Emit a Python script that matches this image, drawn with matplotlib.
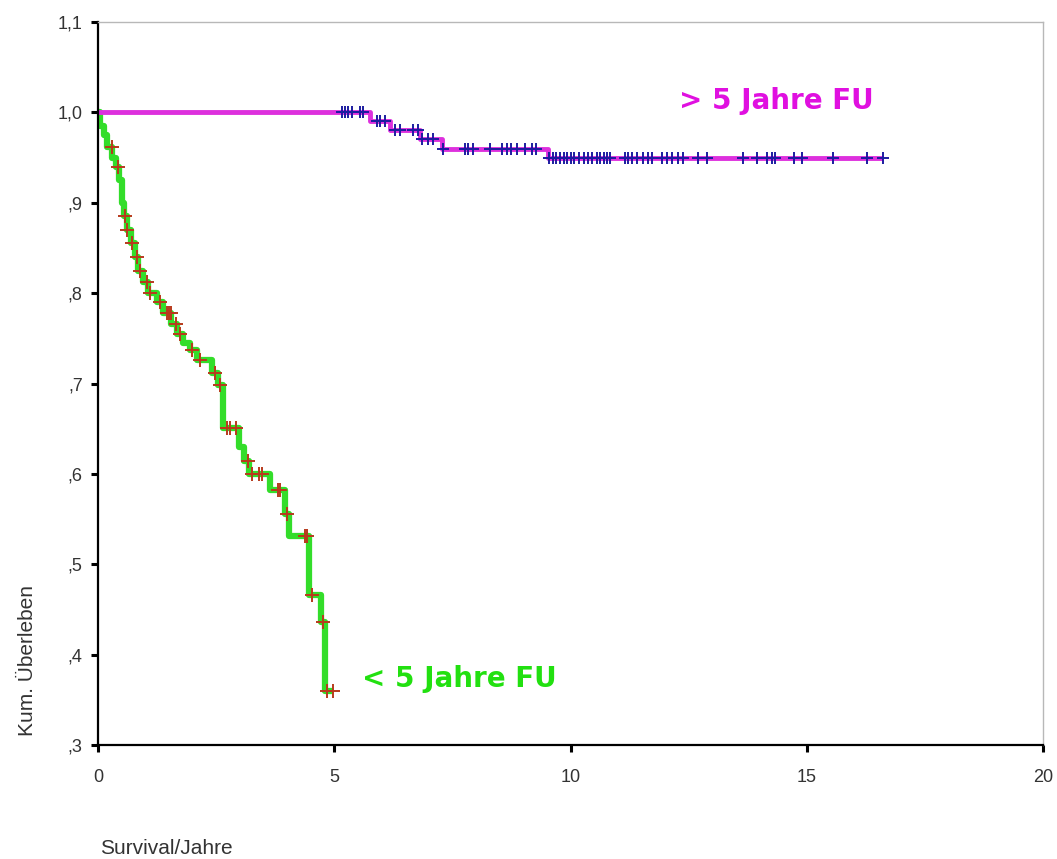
import matplotlib

matplotlib.use("Agg")
import matplotlib.pyplot as plt
import numpy as np

# Kaplan-Meier steps (time in years, survival after the drop)
SHORT_TIMES = [0, 0.05, 0.12, 0.20, 0.30, 0.38, 0.45, 0.50, 0.55, 0.62, 0.70,
               0.78, 0.85, 0.95, 1.05, 1.25, 1.38, 1.55, 1.68, 1.80, 1.95,
               2.10, 2.42, 2.55, 2.65, 2.98, 3.10, 3.20, 3.65, 3.95, 4.05,
               4.47, 4.72, 4.80]
SHORT_SURV = [1.0, 0.985, 0.975, 0.962, 0.950, 0.940, 0.925, 0.900, 0.885,
              0.870, 0.855, 0.840, 0.825, 0.812, 0.800, 0.790, 0.778, 0.766,
              0.755, 0.745, 0.737, 0.726, 0.712, 0.698, 0.651, 0.630, 0.614,
              0.600, 0.582, 0.556, 0.531, 0.466, 0.436, 0.360]
SHORT_END = 4.98
SHORT_CENSOR = [0.29, 0.43, 0.57, 0.62, 0.73, 0.82, 0.89, 1.03, 1.10, 1.31,
                1.45, 1.50, 1.54, 1.65, 1.74, 1.98, 2.16, 2.48, 2.58, 2.72,
                2.80, 2.92, 3.18, 3.26, 3.40, 3.48, 3.80, 3.86, 4.00, 4.38,
                4.43, 4.52, 4.77, 4.84, 4.98]

LONG_TIMES = [0, 5.76, 6.18, 6.81, 7.27, 9.53]
LONG_SURV = [1.0, 0.991, 0.980, 0.970, 0.960, 0.950]
LONG_END = 16.62
LONG_CENSOR = [5.16, 5.23, 5.30, 5.37, 5.54, 5.61, 5.90, 5.97, 6.07, 6.29,
               6.39, 6.67, 6.78, 6.85, 6.99, 7.10, 7.31, 7.77, 7.84, 7.94,
               8.30, 8.54, 8.65, 8.75, 8.86, 9.04, 9.18, 9.28, 9.55, 9.62,
               9.70, 9.78, 9.86, 9.93, 10.00, 10.08, 10.18, 10.28, 10.38,
               10.45, 10.55, 10.62, 10.70, 10.77, 10.84, 11.15, 11.22, 11.30,
               11.40, 11.54, 11.65, 11.72, 11.93, 12.04, 12.14, 12.28, 12.39,
               12.70, 12.88, 13.66, 13.94, 14.15, 14.26, 14.33, 14.72, 14.89,
               15.56, 16.27, 16.62]

Y_TICKS = [0.3, 0.4, 0.5, 0.6, 0.7, 0.8, 0.9, 1.0, 1.1]
Y_TICK_LABELS = [",3", ",4", ",5", ",6", ",7", ",8", ",9", "1,0", "1,1"]
X_TICKS = [0, 5, 10, 15, 20]

GREEN = "#33dd2a"
MAGENTA = "#dd30dd"
RED_MARK = "#b83a1c"
BLUE_MARK = "#1c1ca0"
LABEL_FONT = ["Liberation Sans Narrow", "Liberation Sans", "DejaVu Sans"]


def step_at(times, surv, t):
    idx = np.searchsorted(times, t, side="right") - 1
    return np.asarray(surv)[idx]


def main() -> None:
    fig = plt.figure(figsize=(10.57, 8.59), dpi=100)
    ax = fig.add_axes([0.0927, 0.1327, 0.8941, 0.8417])

    for times, surv, end, censor, line_color, mark_color, lw, ms in (
        (SHORT_TIMES, SHORT_SURV, SHORT_END, SHORT_CENSOR, GREEN, RED_MARK, 4.5, 10),
        (LONG_TIMES, LONG_SURV, LONG_END, LONG_CENSOR, MAGENTA, BLUE_MARK, 3.5, 9),
    ):
        xs = list(times) + [end]
        ys = list(surv) + [surv[-1]]
        ax.plot(xs, ys, drawstyle="steps-post", color=line_color,
                linewidth=lw, solid_capstyle="butt", zorder=2)
        cy = step_at(times, surv, np.array(censor))
        ax.plot(censor, cy, linestyle="none", marker="+", markersize=ms,
                markeredgewidth=1.4, color=mark_color, zorder=3)

    ax.text(14.35, 1.0126, "> 5 Jahre FU", color="#e010e0", fontsize=20,
            fontweight="bold", ha="center", va="center", family="DejaVu Sans")
    ax.text(5.59, 0.373, "< 5 Jahre FU", color="#22e010", fontsize=20,
            fontweight="bold", ha="left", va="center", family="DejaVu Sans")

    ax.set_xlim(0, 20)
    ax.set_ylim(0.3, 1.1)
    ax.set_xticks(X_TICKS)
    ax.set_xticklabels([str(t) for t in X_TICKS])
    ax.set_yticks(Y_TICKS)
    ax.set_yticklabels(Y_TICK_LABELS)
    ax.tick_params(direction="out", length=5, width=2.2, color="black",
                   labelsize=13, labelcolor="#333333", pad=12)
    for label in ax.get_xticklabels() + ax.get_yticklabels():
        label.set_family(LABEL_FONT)
    ax.tick_params(axis="y", pad=6)
    for side in ("left", "bottom"):
        ax.spines[side].set_color("black")
        ax.spines[side].set_linewidth(1.6)
    for side in ("top", "right"):
        ax.spines[side].set_color("#b8b8b8")
        ax.spines[side].set_linewidth(1.0)

    fig.text(100 / 1057, 1 - 848 / 859, "Survival/Jahre", fontsize=15,
             color="#333333", ha="left", va="center", family=LABEL_FONT)
    fig.text(28 / 1057, 1 - 660 / 859, "Kum. Überleben", fontsize=15,
             color="#333333", ha="center", va="center", rotation=90,
             family=LABEL_FONT)

    fig.savefig("out.png", dpi=100)
    plt.close(fig)


if __name__ == "__main__":
    main()
